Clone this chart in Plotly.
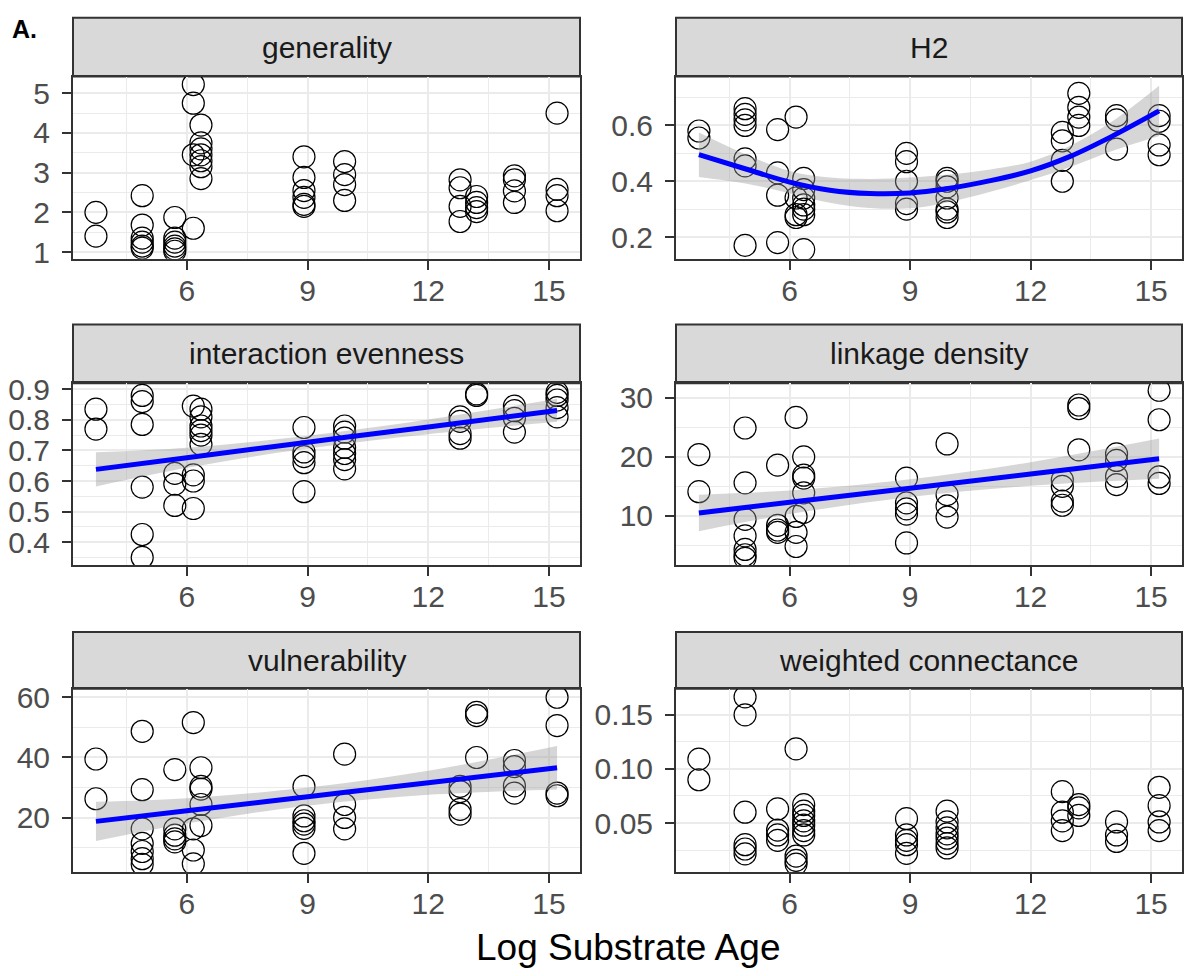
import plotly.graph_objects as go

# ---------------- data ----------------
site_x = [3.74, 4.89, 5.70, 6.16, 6.35, 8.91, 9.92, 12.79, 13.20, 14.14, 15.20]

generality = [
    [2.0, 1.4],
    [2.42, 1.68, 1.35, 1.25, 1.15, 1.1],
    [1.87, 1.35, 1.25, 1.15, 1.08, 1.02],
    [5.22, 4.75, 3.45, 1.6],
    [4.2, 3.75, 3.6, 3.45, 3.3, 3.15, 2.85],
    [3.4, 2.88, 2.55, 2.38, 2.2, 2.15],
    [3.28, 2.95, 2.7, 2.3],
    [2.82, 2.62, 2.15, 1.77],
    [2.4, 2.25, 2.12, 2.02],
    [2.92, 2.82, 2.54, 2.25],
    [4.5, 2.58, 2.42, 2.04],
]
h2 = [
    [0.58, 0.555],
    [0.66, 0.64, 0.62, 0.60, 0.48, 0.455, 0.17],
    [0.585, 0.43, 0.35, 0.18],
    [0.63, 0.34, 0.28, 0.27],
    [0.41, 0.37, 0.34, 0.315, 0.3, 0.28, 0.155],
    [0.5, 0.47, 0.4, 0.32, 0.3],
    [0.41, 0.4, 0.38, 0.34, 0.3, 0.29, 0.27],
    [0.575, 0.545, 0.475, 0.4],
    [0.715, 0.665, 0.63, 0.6],
    [0.635, 0.62, 0.515],
    [0.635, 0.615, 0.53, 0.495],
]
interaction_evenness = [
    [0.835, 0.77],
    [0.88, 0.86, 0.785, 0.58, 0.425, 0.35],
    [0.625, 0.59, 0.52],
    [0.845, 0.62, 0.6, 0.51],
    [0.835, 0.81, 0.78, 0.765, 0.75, 0.72],
    [0.775, 0.695, 0.68, 0.66, 0.565],
    [0.78, 0.76, 0.74, 0.71, 0.69, 0.67, 0.64],
    [0.81, 0.795, 0.755, 0.74],
    [0.885, 0.88],
    [0.845, 0.83, 0.805, 0.76],
    [0.89, 0.88, 0.865, 0.84, 0.81],
]
linkage_density = [
    [20.4, 14.1],
    [24.9, 15.6, 9.4, 6.6, 4.3, 3.4, 2.8],
    [18.6, 8.4, 7.6, 7.2],
    [26.7, 9.9, 7.2, 4.8],
    [20.0, 16.9, 16.4, 13.9, 10.6],
    [16.4, 12.2, 11.2, 10.3, 5.4],
    [22.2, 13.6, 11.7, 9.8],
    [16.1, 15.0, 12.5, 11.8],
    [28.8, 28.2, 21.2],
    [20.5, 19.4, 16.7, 15.3],
    [31.3, 26.3, 16.6, 15.5],
]
vulnerability = [
    [39.5, 26.3],
    [48.7, 29.3, 16.3, 11.5, 8.8, 6.4, 4.5],
    [36.0, 16.3, 14.2, 13.0, 12.0],
    [51.6, 16.3, 9.3, 4.7],
    [36.6, 30.4, 29.5, 24.4, 17.4],
    [30.4, 20.6, 19.0, 17.9, 16.5, 8.2],
    [41.1, 24.4, 20.1, 16.3],
    [30.4, 28.7, 22.8, 21.2],
    [55.0, 53.9, 40.0],
    [39.0, 37.0, 30.6, 28.2],
    [60.0, 50.6, 28.2, 27.3],
]
weighted_connectance = [
    [0.109, 0.09],
    [0.1665, 0.15, 0.06, 0.03, 0.026, 0.0215],
    [0.063, 0.0435, 0.039, 0.034],
    [0.1185, 0.0195, 0.0155, 0.012],
    [0.067, 0.061, 0.057, 0.052, 0.048, 0.043, 0.039],
    [0.054, 0.039, 0.034, 0.03, 0.022],
    [0.061, 0.051, 0.0455, 0.04, 0.036, 0.031, 0.027],
    [0.079, 0.06, 0.052, 0.043],
    [0.067, 0.064, 0.057],
    [0.051, 0.039, 0.033],
    [0.083, 0.066, 0.051, 0.043],
]

# smoother fits
h2_fit_x = [3.74, 4.93, 6.0, 7.0, 8.0, 9.0, 9.9, 11.0, 12.0, 13.0, 14.0, 15.2]
h2_fit = [0.495, 0.443, 0.397, 0.368, 0.356, 0.358, 0.373, 0.402, 0.437, 0.49, 0.559, 0.652]
h2_hi = [0.575, 0.495, 0.437, 0.413, 0.408, 0.413, 0.423, 0.442, 0.470, 0.528, 0.611, 0.742]
h2_lo = [0.415, 0.391, 0.357, 0.323, 0.304, 0.303, 0.323, 0.362, 0.404, 0.452, 0.507, 0.562]

lin_fit_x = [3.74, 6.0, 9.0, 12.0, 15.2]
ie_fit = [0.638, 0.676, 0.727, 0.777, 0.831]
ie_hi = [0.694, 0.709, 0.748, 0.801, 0.869]
ie_lo = [0.582, 0.643, 0.706, 0.753, 0.794]
ld_fit = [10.5, 12.3, 14.7, 17.1, 19.7]
ld_hi = [13.6, 14.3, 16.2, 19.1, 23.1]
ld_lo = [7.4, 10.3, 13.2, 15.1, 16.3]
vu_fit = [18.8, 22.3, 27.0, 31.6, 36.6]
vu_hi = [25.3, 26.5, 30.0, 35.6, 43.8]
vu_lo = [12.3, 18.1, 24.0, 27.6, 29.4]

panel_titles = ["generality", "H2", "interaction evenness", "linkage density",
                "vulnerability", "weighted connectance"]
x_ticks = [6, 9, 12, 15]

# ---------------- figure ----------------
W, H = 1185, 976
FONT = "Liberation Sans, Arial, sans-serif"

col_px = [(73, 580), (676, 1182)]
row_px = [(68, 254), (381, 567), (693, 880)]   # panel top, bottom (px from top)
strip_px = [(8, 68), (321, 381), (635, 693)]

y_settings = [
    dict(range=[0.83, 5.42], dtick=1, tick0=0, minor=0.5, fmt=None),
    dict(range=[0.122, 0.775], dtick=0.2, tick0=0, minor=0.1, fmt=".1f"),
    dict(range=[0.324, 0.92], dtick=0.1, tick0=0, minor=0.05, fmt=".1f"),
    dict(range=[1.6, 32.5], dtick=10, tick0=0, minor=5, fmt=None),
    dict(range=[2.0, 62.8], dtick=20, tick0=0, minor=10, fmt=None),
    dict(range=[0.0048, 0.174], dtick=0.05, tick0=0, minor=0.025, fmt=".2f"),
]

metrics = [generality, h2, interaction_evenness, linkage_density,
           vulnerability, weighted_connectance]

fig = go.Figure()

BAND = "rgba(153,153,153,0.4)"
BLUE = "#0000FF"

def add_points(i, vals):
    xs, ys = [], []
    for sx, group in zip(site_x, vals):
        for v in group:
            xs.append(sx)
            ys.append(v)
    fig.add_trace(go.Scatter(
        x=xs, y=ys, mode="markers", xaxis=f"x{i+1}", yaxis=f"y{i+1}",
        marker=dict(symbol="circle-open", size=22, color="black",
                    line=dict(width=1.2, color="black")),
        showlegend=False, hoverinfo="skip"))

def add_smooth(i, fx, fit, lo, hi, shape):
    fig.add_trace(go.Scatter(x=fx, y=lo, mode="lines", xaxis=f"x{i+1}", yaxis=f"y{i+1}",
                             line=dict(width=0, color=BAND, shape=shape),
                             showlegend=False, hoverinfo="skip"))
    fig.add_trace(go.Scatter(x=fx, y=hi, mode="lines", xaxis=f"x{i+1}", yaxis=f"y{i+1}",
                             line=dict(width=0, color=BAND, shape=shape),
                             fill="tonexty", fillcolor=BAND,
                             showlegend=False, hoverinfo="skip"))
    fig.add_trace(go.Scatter(x=fx, y=fit, mode="lines", xaxis=f"x{i+1}", yaxis=f"y{i+1}",
                             line=dict(width=5, color=BLUE, shape=shape),
                             showlegend=False, hoverinfo="skip"))

for i, vals in enumerate(metrics):
    add_points(i, vals)

add_smooth(1, h2_fit_x, h2_fit, h2_lo, h2_hi, "spline")
add_smooth(2, lin_fit_x, ie_fit, ie_lo, ie_hi, "spline")
add_smooth(3, lin_fit_x, ld_fit, ld_lo, ld_hi, "spline")
add_smooth(4, lin_fit_x, vu_fit, vu_lo, vu_hi, "spline")

layout = dict(
    width=W, height=H, autosize=False,
    margin=dict(l=0, r=0, t=0, b=0),
    paper_bgcolor="white", plot_bgcolor="white",
    font=dict(family=FONT),
    showlegend=False,
)

shapes = []
annotations = []
GRID = "#EBEBEB"
for i in range(6):
    r, c = divmod(i, 2)
    x0, x1 = col_px[c]
    t, b = row_px[r]
    st, sb = strip_px[r]
    ys = y_settings[i]
    xa = dict(
        domain=[x0 / W, x1 / W], anchor=f"y{i+1}",
        range=[3.17, 15.77], tickmode="array", tickvals=x_ticks,
        ticktext=[str(v) for v in x_ticks],
        showgrid=True, gridcolor=GRID, gridwidth=2.2,
        minor=dict(tickmode="array", tickvals=[4.5, 7.5, 10.5, 13.5],
                   showgrid=True, gridcolor=GRID, gridwidth=1.1, ticks=""),
        showline=True, mirror=True, linecolor="#333333", linewidth=2,
        ticks="outside", ticklen=9, tickwidth=2, tickcolor="#333333",
        tickfont=dict(size=30, color="#4D4D4D", family=FONT),
        ticklabelstandoff=-5,
        zeroline=False,
    )
    ya = dict(
        domain=[1 - b / H, 1 - t / H], anchor=f"x{i+1}",
        range=ys["range"], dtick=ys["dtick"], tick0=ys["tick0"],
        showgrid=True, gridcolor=GRID, gridwidth=2.2,
        minor=dict(dtick=ys["minor"], tick0=0, showgrid=True,
                   gridcolor=GRID, gridwidth=1.1, ticks=""),
        showline=True, mirror=True, linecolor="#333333", linewidth=2,
        ticks="outside", ticklen=9, tickwidth=2, tickcolor="#333333",
        tickfont=dict(size=30, color="#4D4D4D", family=FONT),
        ticklabelstandoff=6,
        zeroline=False,
    )
    if ys["fmt"]:
        ya["tickformat"] = ys["fmt"]
    layout[f"xaxis{i+1}"] = xa
    layout[f"yaxis{i+1}"] = ya

    shapes.append(dict(type="rect", xref="paper", yref="paper",
                       x0=x0 / W, x1=x1 / W, y0=1 - sb / H, y1=1 - st / H,
                       fillcolor="#D9D9D9", line=dict(color="#333333", width=2),
                       layer="below"))
    annotations.append(dict(text=panel_titles[i], xref="paper", yref="paper",
                            x=(x0 + x1) / 2 / W, y=1 - (st + sb) / 2 / H,
                            xanchor="center", yanchor="middle", showarrow=False,
                            font=dict(size=30, color="#1A1A1A", family=FONT)))

annotations.append(dict(text="Log Substrate Age", xref="paper", yref="paper",
                        x=(73 + 1182) / 2 / W, y=1 - 957 / H,
                        xanchor="center", yanchor="middle", showarrow=False,
                        font=dict(size=37, color="black", family=FONT)))
annotations.append(dict(text="<b>A.</b>", xref="paper", yref="paper",
                        x=10 / W, y=1 - 19 / H, xanchor="left", yanchor="middle",
                        showarrow=False, font=dict(size=25, color="black", family=FONT)))

layout["shapes"] = shapes
layout["annotations"] = annotations
fig.update_layout(**layout)

fig.write_html("out.html")
